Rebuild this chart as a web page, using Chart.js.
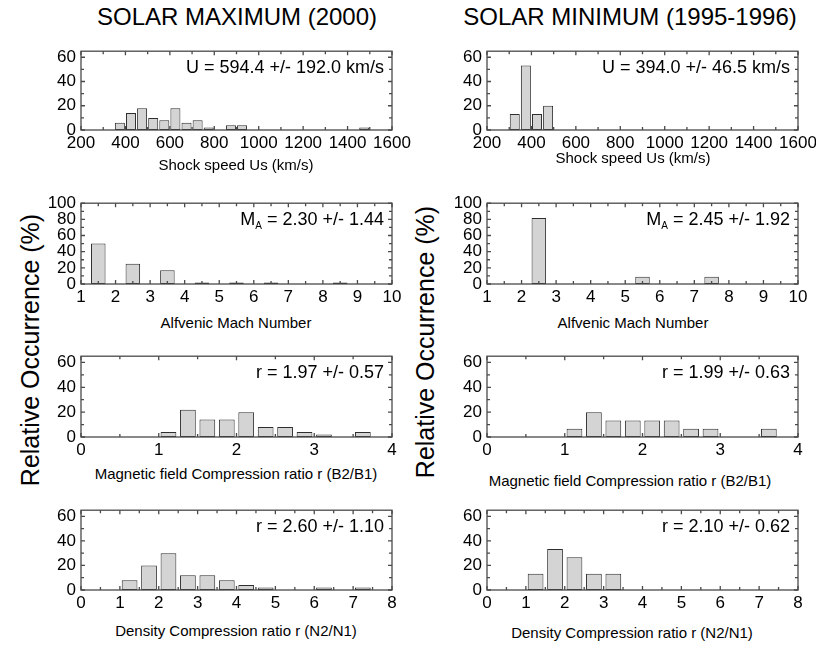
<!DOCTYPE html>
<html>
<head>
<meta charset="utf-8">
<script src="https://cdn.jsdelivr.net/npm/chart.js@4.4.1/dist/chart.umd.min.js"></script>
<style>
  body { margin: 0; background: #fff; width: 816px; height: 646px; position: relative; overflow: hidden;
         font-family: "Liberation Sans", Arial, sans-serif; color: #000; }
  canvas { position: absolute; }
  .lbl { position: absolute; white-space: nowrap; transform: translate(-50%, -50%); line-height: 1; }
  .rot { transform: translate(-50%, -50%) rotate(-90deg); }
</style>
</head>
<body>
<div class="lbl" style="left:237px;top:17px;font-size:24px">SOLAR MAXIMUM (2000)</div>
<div class="lbl" style="left:630px;top:17px;font-size:24px">SOLAR MINIMUM (1995-1996)</div>
<div class="lbl rot" style="left:30px;top:350px;font-size:25px">Relative Occurrence (%)</div>
<div class="lbl rot" style="left:425px;top:342px;font-size:25px">Relative Occurrence (%)</div>
<script>
// histogram bin centres and relative occurrence (%)
var speedBinsMax = [375, 425, 475, 525, 575, 625, 675, 725, 775, 825, 875, 925, 975, 1025, 1075, 1125, 1175, 1225, 1275, 1325, 1375, 1425, 1475];
var speedPctMax = [6, 14, 18, 10, 8, 18, 6, 8, 2, 0, 4, 4, 0, 0, 0, 0, 0, 0, 0, 0, 0, 0, 2];
var speedBinsMin = [325, 375, 425, 475];
var speedPctMin = [13.3, 53.3, 13.3, 20.0];

var machBinsMax = [1.5, 2.5, 3.5, 4.5, 5.5, 6.5, 7.5, 8.5];
var machPctMax = [50, 25, 17, 2, 2, 2, 0, 2];
var machBinsMin = [2.5, 3.5, 4.5, 5.5, 6.5, 7.5];
var machPctMin = [81.8, 0, 0, 9.1, 0, 9.1];

var bRatioBins = [1.125, 1.375, 1.625, 1.875, 2.125, 2.375, 2.625, 2.875, 3.125, 3.375, 3.625];
var bRatioPctMax = [4, 22, 14, 14, 20, 8, 8, 4, 2, 0, 4];
var bRatioPctMin = [6.7, 20, 13.3, 13.3, 13.3, 13.3, 6.7, 6.7, 0, 0, 6.7];

var nRatioBinsMax = [1.25, 1.75, 2.25, 2.75, 3.25, 3.75, 4.25, 4.75, 5.25, 5.75, 6.25, 6.75, 7.25];
var nRatioPctMax = [8, 20, 30, 12, 12, 8, 4, 2, 0, 0, 2, 0, 2];
var nRatioBinsMin = [1.25, 1.75, 2.25, 2.75, 3.25];
var nRatioPctMin = [13.3, 33.3, 26.7, 13.3, 13.3];

// axis tick labels
var speedTicks = [200, 400, 600, 800, 1000, 1200, 1400, 1600];
var machTicks = [1, 2, 3, 4, 5, 6, 7, 8, 9, 10];
var bRatioTicks = [0, 1, 2, 3, 4];
var nRatioTicks = [0, 1, 2, 3, 4, 5, 6, 7, 8];
var pctTicks60 = [0, 20, 40, 60];
var pctTicks100 = [0, 20, 40, 60, 80, 100];

var speedTitle = 'Shock speed Us (km/s)';
var machTitle = 'Alfvenic Mach Number';
var bRatioTitle = 'Magnetic field Compression ratio r (B2/B1)';
var nRatioTitle = 'Density Compression ratio r (N2/N1)';

// box = plot area [left, top, right, bottom]; title = x-axis title centre
var panels = [
  { box: [81, 50, 392, 130], title: [236, 164], xs: speedBinsMax, ys: speedPctMax, xTicks: speedTicks, xMinor: 100,
    yTicks: pctTicks60, yMax: 65, bar: 0.9, xTitle: speedTitle, note: 'U = 594.4 +/- 192.0 km/s' },
  { box: [487, 50, 798, 130], title: [633, 157], xs: speedBinsMin, ys: speedPctMin, xTicks: speedTicks, xMinor: 100,
    yTicks: pctTicks60, yMax: 65, bar: 0.9, xTitle: speedTitle, note: 'U = 394.0 +/- 46.5 km/s' },
  { box: [81, 202, 392, 284], title: [236, 322], xs: machBinsMax, ys: machPctMax, xTicks: machTicks, xMinor: 0.5,
    yTicks: pctTicks100, yMax: 100, bar: 0.42, xTitle: machTitle, note: ' = 2.30 +/- 1.44', mach: true },
  { box: [487, 202, 798, 284], title: [633, 322], xs: machBinsMin, ys: machPctMin, xTicks: machTicks, xMinor: 0.5,
    yTicks: pctTicks100, yMax: 100, bar: 0.42, xTitle: machTitle, note: ' = 2.45 +/- 1.92', mach: true },
  { box: [81, 355, 392, 437], title: [236, 473], xs: bRatioBins, ys: bRatioPctMax, xTicks: bRatioTicks, xMinor: 0.5,
    yTicks: pctTicks60, yMax: 65, bar: 0.81, xTitle: bRatioTitle, note: 'r = 1.97 +/- 0.57' },
  { box: [487, 355, 798, 437], title: [630, 480], xs: bRatioBins, ys: bRatioPctMin, xTicks: bRatioTicks, xMinor: 0.5,
    yTicks: pctTicks60, yMax: 65, bar: 0.81, xTitle: bRatioTitle, note: 'r = 1.99 +/- 0.63' },
  { box: [81, 509, 392, 590], title: [236, 630], xs: nRatioBinsMax, ys: nRatioPctMax, xTicks: nRatioTicks, xMinor: 0.5,
    yTicks: pctTicks60, yMax: 65, bar: 0.81, xTitle: nRatioTitle, note: 'r = 2.60 +/- 1.10' },
  { box: [487, 509, 798, 590], title: [632, 632], xs: nRatioBinsMin, ys: nRatioPctMin, xTicks: nRatioTicks, xMinor: 0.5,
    yTicks: pctTicks60, yMax: 65, bar: 0.81, xTitle: nRatioTitle, note: 'r = 2.10 +/- 0.62' }
];

var FONT = '"Liberation Sans", Arial, sans-serif';

// closed frame with inward ticks on all four sides, plus the stats note
var frameTicks = {
  id: 'frameTicks',
  afterDraw: function (chart, args, o) {
    var ctx = chart.ctx, a = chart.chartArea;
    var xs = chart.scales.x, ys = chart.scales.y;
    ctx.save();
    ctx.strokeStyle = '#4a4a4a';
    ctx.lineWidth = 1.3;
    ctx.strokeRect(a.left, a.top, a.right - a.left, a.bottom - a.top);
    ctx.beginPath();
    var v, px, len;
    for (v = xs.min; v <= xs.max + 1e-9; v += o.xMinor) {
      px = xs.getPixelForValue(v);
      len = o.xTicks.indexOf(Math.round(v * 1000) / 1000) >= 0 ? 4 : 3;
      ctx.moveTo(px, a.bottom); ctx.lineTo(px, a.bottom - len);
      ctx.moveTo(px, a.top); ctx.lineTo(px, a.top + len);
    }
    for (v = 0; v <= ys.max + 1e-9; v += 10) {
      px = ys.getPixelForValue(v);
      len = v % 20 === 0 ? 4 : 3;
      ctx.moveTo(a.left, px); ctx.lineTo(a.left + len, px);
      ctx.moveTo(a.right, px); ctx.lineTo(a.right - len, px);
    }
    ctx.stroke();

    ctx.fillStyle = '#000';
    ctx.textBaseline = 'middle';
    ctx.textAlign = 'right';
    var nx = a.right - 8, ny = a.top + 17;
    ctx.font = '18px ' + FONT;
    ctx.fillText(o.note, nx, ny);
    if (o.mach) {
      var w = ctx.measureText(o.note).width;
      ctx.font = '10px ' + FONT;
      var wa = ctx.measureText('A').width;
      ctx.fillText('A', nx - w, ny + 6);
      ctx.font = '18px ' + FONT;
      ctx.fillText('M', nx - w - wa, ny);
    }
    ctx.restore();
  }
};

panels.forEach(function (p) {
  var padL = 56, padR = 24, padT = 14, below = 26;
  var left = p.box[0] - padL, top = p.box[1] - padT;
  var cv = document.createElement('canvas');
  cv.width = p.box[2] + padR - left;
  cv.height = p.box[3] + below - top;
  cv.style.left = left + 'px';
  cv.style.top = top + 'px';
  document.body.appendChild(cv);

  var t = document.createElement('div');
  t.className = 'lbl';
  t.style.left = p.title[0] + 'px';
  t.style.top = p.title[1] + 'px';
  t.style.fontSize = '15px';
  t.textContent = p.xTitle;
  document.body.appendChild(t);

  new Chart(cv, {
    type: 'bar',
    data: {
      datasets: [{
        data: p.xs.map(function (x, i) { return { x: x, y: p.ys[i] }; }),
        backgroundColor: '#d4d4d4',
        borderColor: '#2e2e2e',
        borderWidth: 1,
        borderSkipped: false,
        barPercentage: p.bar,
        categoryPercentage: 1
      }]
    },
    options: {
      responsive: false,
      animation: false,
      devicePixelRatio: 1,
      layout: { padding: { left: 0, top: padT, right: padR, bottom: 0 } },
      plugins: {
        legend: { display: false },
        tooltip: { enabled: false },
        frameTicks: { xMinor: p.xMinor, xTicks: p.xTicks, note: p.note, mach: !!p.mach }
      },
      scales: {
        x: {
          type: 'linear',
          offset: false,
          min: p.xTicks[0],
          max: p.xTicks[p.xTicks.length - 1],
          afterBuildTicks: function (s) { s.ticks = p.xTicks.map(function (v) { return { value: v }; }); },
          afterFit: function (s) { s.height = below; },
          grid: { display: false, drawTicks: false, offset: false },
          border: { display: false },
          ticks: { autoSkip: false, maxRotation: 0, padding: 3, color: '#000',
                   font: { size: 17, family: FONT }, callback: function (v) { return String(v); } }
        },
        y: {
          min: 0,
          max: p.yMax,
          afterBuildTicks: function (s) { s.ticks = p.yTicks.map(function (v) { return { value: v }; }); },
          afterFit: function (s) { s.width = padL; },
          grid: { display: false, drawTicks: false },
          border: { display: false },
          ticks: { autoSkip: false, padding: 5, color: '#000',
                   font: { size: 17, family: FONT }, callback: function (v) { return String(v); } }
        }
      }
    },
    plugins: [frameTicks]
  });
});
</script>
</body>
</html>
